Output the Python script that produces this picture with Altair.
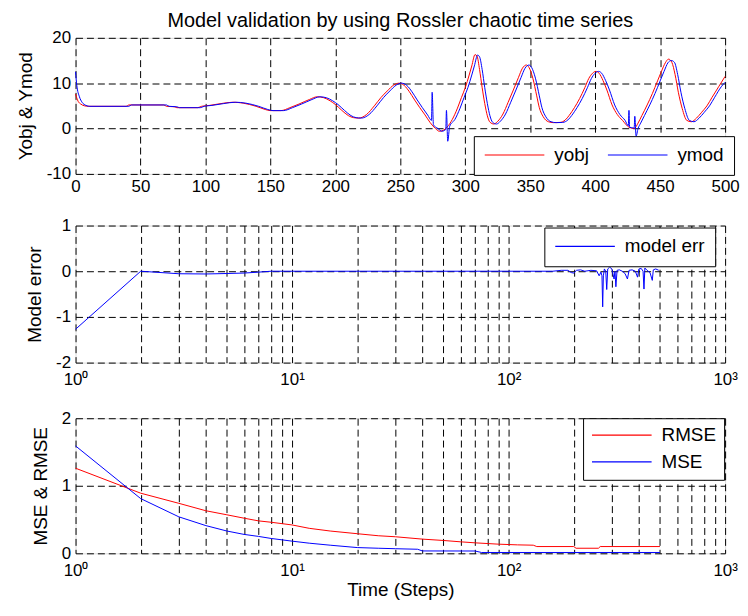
import altair as alt
import pandas as pd

FONT = "Liberation Sans"
TITLE = "Model validation by using Rossler chaotic time series"

# ---- top panel: objective vs model output ----
t_obj = [0, 2, 4, 7, 10, 39, 41, 68, 70, 76, 78, 94, 97, 103, 112, 121, 129, 139, 146, 150,
         158, 165, 172, 180, 186, 191, 196, 200, 205, 210, 214, 218, 224, 230, 235, 240, 245, 249,
         253, 257, 261, 265, 269, 273, 277, 280, 283, 286, 290, 294, 297, 300, 303, 305, 307.5, 309,
         311, 313, 315, 317, 319, 322, 325, 329, 333, 337, 341, 344, 347, 349, 352, 355, 357, 360,
         364, 368, 373, 377, 380, 384, 388, 392, 395, 398, 400.5, 403, 406, 409, 413, 417, 421, 426,
         430, 433, 436, 440, 444, 448, 451, 454, 456.5, 459, 461.5, 464, 467, 470.5, 474, 478, 482,
         486, 490, 495, 500]
y_obj = [7.6, 6.0, 5.4, 5.0, 4.9, 4.9, 5.2, 5.2, 4.9, 4.8, 4.6, 4.6, 4.9, 5.1, 5.5, 5.8, 5.6, 4.9,
         4.2, 3.95, 3.95, 4.6, 5.4, 6.4, 7.0, 6.8, 6.1, 5.3, 4.0, 2.85, 2.4, 2.3, 3.1, 5.0, 6.8, 8.3,
         9.6, 10.0, 9.5, 8.1, 6.3, 4.6, 3.0, 1.3, 0.0, -0.6, -0.4, 0.3, 2.0, 4.5, 6.8, 9.0, 11.8, 13.8,
         16.3, 16.0, 13.0, 9.0, 5.5, 2.8, 1.4, 1.0, 1.6, 3.2, 5.8, 8.5, 11.3, 13.3, 14.0, 13.5, 11.1,
         7.2, 4.6, 2.6, 1.5, 1.3, 1.35, 1.9, 2.9, 4.6, 6.6, 9.0, 11.0, 12.2, 12.6, 12.2, 10.6, 8.5,
         5.2, 3.1, 1.8, 0.3, 0.0, 1.2, 2.9, 5.2, 7.7, 10.5, 12.6, 14.5, 15.3, 14.6, 11.9, 8.0, 4.4,
         1.8, 1.5, 2.3, 3.6, 5.0, 6.9, 9.2, 11.5]

t_mod = [0, 1, 3, 5, 8, 11, 41, 43, 70, 72, 78, 80, 96, 99, 105, 114, 123, 131, 141, 148, 152, 160,
         167, 174, 182, 188, 193, 198, 202, 207, 212, 216, 220, 226, 232, 237, 242, 247, 251, 255,
         259, 263, 267, 271, 274, 274.5, 275.5, 279, 282, 285, 285.5, 286.5, 288, 292, 296, 299, 302,
         305, 307, 309.5, 311, 313, 315, 317, 319, 321, 324, 327, 331, 335, 339, 343, 346, 349, 351,
         354, 357, 359, 362, 366, 370, 375, 379, 382, 386, 390, 394, 397, 400, 402.5, 405, 408, 411,
         415, 419, 423, 425.5, 426, 426.5, 430, 430.5, 431.5, 433, 435, 438, 442, 446, 450, 453, 456,
         458.5, 461, 463.5, 466, 469, 472.5, 476, 480, 484, 488, 492, 497, 500]
y_mod = [12.5, 9.5, 7.0, 5.8, 5.1, 4.9, 4.9, 5.2, 5.2, 4.9, 4.8, 4.6, 4.6, 4.9, 5.1, 5.5, 5.8, 5.6,
         4.9, 4.2, 3.95, 3.95, 4.6, 5.4, 6.4, 7.0, 6.8, 6.1, 5.3, 4.0, 2.85, 2.4, 2.3, 3.1, 5.0, 6.8,
         8.3, 9.6, 10.0, 9.5, 8.1, 6.3, 4.6, 3.0, 1.8, 8.0, 0.8, 0.0, -0.6, -0.2, 4.0, -2.8, 0.5, 2.0,
         4.5, 6.8, 9.0, 11.8, 13.8, 16.2, 15.8, 13.0, 9.0, 5.5, 2.8, 1.4, 1.0, 1.6, 3.2, 5.8, 8.5,
         11.3, 13.3, 14.0, 13.5, 11.1, 7.2, 4.6, 2.6, 1.5, 1.3, 1.35, 1.9, 2.9, 4.6, 6.6, 9.0, 11.0,
         12.2, 12.6, 12.2, 10.6, 8.5, 5.2, 3.1, 1.8, 0.6, 4.0, 0.3, 0.1, 2.7, -1.7, 0.0, 1.2, 2.9,
         5.2, 7.7, 10.5, 12.6, 14.5, 15.0, 14.6, 11.9, 8.0, 4.4, 1.8, 1.5, 2.3, 3.6, 5.0, 6.9, 9.2,
         10.2]

# ---- middle panel: model error ----
t_err = [1, 2, 3, 4, 5, 6, 7, 8, 160, 175, 188, 195, 200, 206, 215, 225, 240, 255, 262, 267, 270,
         272, 274, 277, 281, 284, 287, 293, 300, 307, 310, 313, 317, 325, 335, 345, 354, 360, 372,
         385, 394, 400, 410, 418, 422, 426, 436, 450, 461, 466, 478, 494]
model_err = [-1.27, 0.0, -0.055, -0.06, -0.05, -0.04, -0.02, 0.0, 0.0, 0.02, 0.02, -0.03, -0.04,
             0.02, 0.03, 0.0, 0.02, 0.01, -0.1, -0.02, -0.1, -0.78, -0.1, 0.05, 0.0, -0.4, 0.05,
             0.09, 0.05, -0.17, 0.0, -0.34, 0.02, 0.03, 0.0, -0.05, -0.17, 0.02, 0.03, 0.0, -0.13,
             0.05, 0.06, 0.0, -0.39, 0.07, 0.02, -0.03, -0.2, 0.03, 0.05, 0.02]

# ---- bottom panel: RMSE & MSE ----
t_rmse = [1, 2, 3, 4, 5, 6, 7, 8, 10, 12, 15, 20, 25, 30, 40, 50, 60, 70, 90, 110, 130, 135, 200,
          205, 260, 265, 500]
rmse = [1.26, 0.89, 0.74, 0.63, 0.57, 0.52, 0.48, 0.46, 0.42, 0.37, 0.33, 0.29, 0.26, 0.245, 0.21,
        0.19, 0.17, 0.155, 0.135, 0.125, 0.12, 0.1, 0.1, 0.075, 0.075, 0.1, 0.1]
t_mse = [1, 2, 3, 4, 5, 6, 7, 8, 10, 12, 15, 20, 25, 30, 38, 40, 70, 75, 500]
mse = [1.59, 0.81, 0.54, 0.41, 0.33, 0.28, 0.25, 0.22, 0.18, 0.15, 0.12, 0.085, 0.075, 0.068, 0.06,
       0.035, 0.034, 0.012, 0.012]

lin_ticks = [0, 50, 100, 150, 200, 250, 300, 350, 400, 450, 500]
log_grid = [m * 10 ** k for k in range(3) for m in range(1, 10)] + [1000]
log_label_expr = ("datum.value == 1 ? '10\u2070' : datum.value == 10 ? '10\u00b9' : "
                  "datum.value == 100 ? '10\u00b2' : datum.value == 1000 ? '10\u00b3' : ''")
plain_label_expr = "datum.value + ''"

df_top = pd.concat([
    pd.DataFrame({"t": t_obj, "v": y_obj, "s": "yobj"}),
    pd.DataFrame({"t": t_mod, "v": y_mod, "s": "ymod"}),
])
df_mid = pd.DataFrame({"t": t_err, "v": model_err, "s": "model err"})
df_bot = pd.concat([
    pd.DataFrame({"t": t_rmse, "v": rmse, "s": "RMSE"}),
    pd.DataFrame({"t": t_mse, "v": mse, "s": "MSE"}),
])

W = 654
axis_common = dict(grid=True, gridColor="#000", gridDash=[7, 4], gridWidth=1, gridOpacity=1,
                   ticks=False, domain=False, labelColor="#000", labelFont=FONT, labelFontSize=17,
                   titleFont=FONT, titleFontSize=19, titleFontWeight="normal", titleColor="#000",
                   labelOverlap=False, labelFlush=False)


def legend(x, y, pad, direction="vertical"):
    return alt.Legend(title=None, orient="none", legendX=x, legendY=y, direction=direction,
                      symbolType="stroke", symbolSize=3600, symbolStrokeWidth=1.2,
                      labelFont=FONT, labelFontSize=19, labelColor="#000", labelOffset=9,
                      strokeColor="#000", fillColor="#fff", padding=pad, clipHeight=18,
                      rowPadding=8, columnPadding=18, cornerRadius=0)


top = alt.Chart(df_top).mark_line(strokeWidth=1, interpolate="monotone").encode(
    x=alt.X("t:Q", scale=alt.Scale(domain=[0, 500], nice=False, zero=False),
            axis=alt.Axis(values=lin_ticks, title=None, labelPadding=5, **axis_common)),
    y=alt.Y("v:Q", scale=alt.Scale(domain=[-10, 20], nice=False),
            axis=alt.Axis(values=[-10, 0, 10, 20], labelExpr=plain_label_expr, labelPadding=5,
                          title="Yobj & Ymod", titlePadding=11, **axis_common)),
    color=alt.Color("s:N", scale=alt.Scale(domain=["yobj", "ymod"], range=["#ff0000", "#0000ff"]),
                    legend=legend(401, 99, 10, "horizontal")),
    order=alt.Order("t:Q"),
).properties(width=W, height=137,
             title=alt.TitleParams(TITLE, font=FONT, fontSize=20, fontWeight="normal", color="#000",
                                   anchor="middle", frame="group", offset=-2))

mid = alt.Chart(df_mid).mark_line(strokeWidth=1).encode(
    x=alt.X("t:Q", scale=alt.Scale(type="log", domain=[1, 1000], nice=False),
            axis=alt.Axis(values=log_grid, labelExpr=log_label_expr, title=None, labelPadding=9,
                          **axis_common)),
    y=alt.Y("v:Q", scale=alt.Scale(domain=[-2, 1], nice=False),
            axis=alt.Axis(values=[-2, -1, 0, 1], labelExpr=plain_label_expr, labelPadding=5,
                          title="Model error", titlePadding=11, **axis_common)),
    color=alt.Color("s:N", scale=alt.Scale(domain=["model err"], range=["#0000ff"]),
                    legend=legend(472, 2, 10)),
).properties(width=W, height=138)

bot = alt.Chart(df_bot).mark_line(strokeWidth=1).encode(
    x=alt.X("t:Q", scale=alt.Scale(type="log", domain=[1, 1000], nice=False),
            axis=alt.Axis(values=log_grid, labelExpr=log_label_expr, title="Time (Steps)",
                          labelPadding=9, titlePadding=2, **axis_common)),
    y=alt.Y("v:Q", scale=alt.Scale(domain=[0, 2], nice=False),
            axis=alt.Axis(values=[0, 1, 2], labelExpr=plain_label_expr, labelPadding=5,
                          title="MSE & RMSE", titlePadding=11, **axis_common)),
    color=alt.Color("s:N", scale=alt.Scale(domain=["RMSE", "MSE"], range=["#ff0000", "#0000ff"]),
                    legend=legend(511, 0, 8)),
).properties(width=W, height=136)

chart = alt.vconcat(top, mid, bot, spacing=20).resolve_scale(
    x="independent", y="independent", color="independent"
).resolve_legend(color="independent").properties(
    padding={"left": 7, "top": 0, "right": 0, "bottom": 0}
).configure_view(stroke="#000", strokeWidth=1).configure(font=FONT, background="#ffffff")

chart.save("out.html", embed_options={"renderer": "svg", "actions": False})
